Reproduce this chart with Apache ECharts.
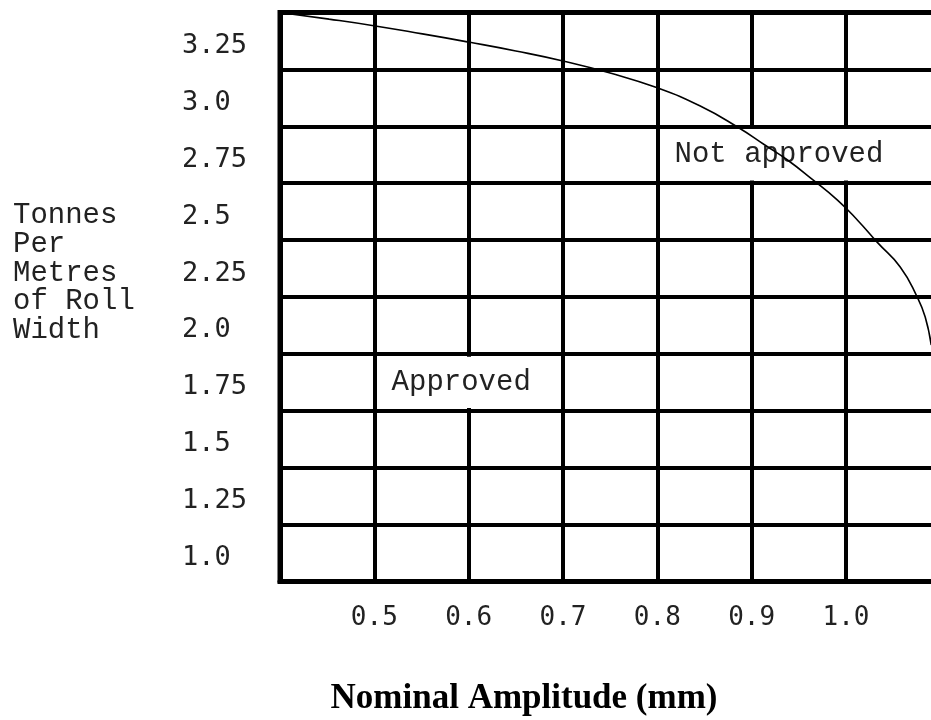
<!DOCTYPE html>
<html>
<head>
<meta charset="utf-8">
<script src="https://cdn.jsdelivr.net/npm/echarts@6/dist/echarts.min.js"></script>
<style>
  html, body { margin: 0; padding: 0; background: #fff; }
  #chart { width: 931px; height: 720px; }
</style>
</head>
<body>
<div id="chart"></div>
<script>
// Category labels of the vertical axis (bottom to top, shown at cell centres)
var yCategories = ['1.0', '1.25', '1.5', '1.75', '2.0', '2.25', '2.5', '2.75', '3.0', '3.25'];
// Horizontal axis: nominal amplitude range and tick step
var xMin = 0.4, xMax = 1.1, xStep = 0.1;
// Numeric extent of the vertical axis (cell edges)
var yMin = 0.875, yMax = 3.375;
// Boundary curve between approved and not approved regions
var curveX = [0.400, 0.452, 0.501, 0.551, 0.600, 0.650, 0.700, 0.750, 0.800, 0.845, 0.885,
              0.914, 0.938, 0.964, 0.991, 1.013, 1.033, 1.0575, 1.0755, 1.084, 1.0904];
var curveY = [3.375, 3.346, 3.316, 3.281, 3.245, 3.206, 3.162, 3.109, 3.044, 2.965, 2.872,
              2.793, 2.727, 2.643, 2.551, 2.459, 2.366, 2.257, 2.125, 2.037, 1.914];
// Region annotations: [label, x from, x to, y from, y to]
var regions = [
  ['Approved', 0.5045, 0.6955, 1.637, 1.863],
  ['Not approved', 0.8045, 1.2, 2.637, 2.863]
];
var yTitle = 'Tonnes\nPer\nMetres\nof Roll\nWidth';
var xTitle = 'Nominal Amplitude (mm)';

var curveData = curveX.map(function (x, i) { return [x, curveY[i]]; });
var areaData = regions.map(function (r) {
  return [{ name: r[0], coord: [r[1], r[3]] }, { coord: [r[2], r[4]] }];
});

var chart = echarts.init(document.getElementById('chart'), null, { renderer: 'canvas' });
chart.setOption({
  backgroundColor: '#ffffff',
  animation: false,
  grid: {
    left: 280, top: 12.5, bottom: 138.5, right: -9.3,
    containLabel: false, outerBoundsMode: 'none',
    show: true, borderColor: '#000', borderWidth: 5, backgroundColor: 'transparent'
  },
  xAxis: {
    type: 'value', min: xMin, max: xMax, interval: xStep,
    axisLine: { show: true, lineStyle: { color: '#000', width: 5 } },
    axisTick: { show: false },
    splitLine: { show: true, lineStyle: { color: '#000', width: 4 } },
    axisLabel: {
      showMinLabel: false, showMaxLabel: false, margin: 24,
      color: '#222', fontFamily: 'DejaVu Sans Mono', fontSize: 26,
      formatter: function (v) { return v.toFixed(1); }
    }
  },
  yAxis: [{
    type: 'category', data: yCategories, boundaryGap: true,
    axisLine: { show: true, lineStyle: { color: '#000', width: 5 } },
    axisTick: { show: false },
    splitLine: { show: true, interval: 0, lineStyle: { color: '#000', width: 4 } },
    axisLabel: {
      interval: 0, align: 'left', margin: 98,
      formatter: function (v) { return '{a|' + v + '}'; },
      rich: {
        a: {
          padding: [10, 0, 0, 0], color: '#222',
          fontFamily: 'DejaVu Sans Mono', fontSize: 27
        }
      }
    }
  }, {
    type: 'value', min: yMin, max: yMax, show: false,
    splitLine: { show: false }
  }],
  series: [{
    type: 'line', xAxisIndex: 0, yAxisIndex: 1, data: [], z: 1, silent: true,
    markArea: {
      silent: true,
      itemStyle: { color: '#ffffff', borderWidth: 0 },
      label: {
        show: true, position: 'insideLeft', distance: 13,
        color: '#222', fontFamily: 'Liberation Mono', fontSize: 29
      },
      data: areaData
    }
  }, {
    type: 'line', xAxisIndex: 0, yAxisIndex: 1, data: curveData, z: 5,
    smooth: 0.5, showSymbol: false, silent: true,
    lineStyle: { color: '#000', width: 1.6 }
  }],
  graphic: [{
    type: 'text', left: 13, top: 201,
    style: {
      text: yTitle, fill: '#222', lineHeight: 28.75,
      font: '29px "Liberation Mono"'
    }
  }, {
    type: 'text', x: 524, y: 699,
    style: {
      text: xTitle, fill: '#000', align: 'center', verticalAlign: 'middle',
      font: 'bold 35px "Liberation Serif"'
    }
  }]
});
</script>
</body>
</html>
